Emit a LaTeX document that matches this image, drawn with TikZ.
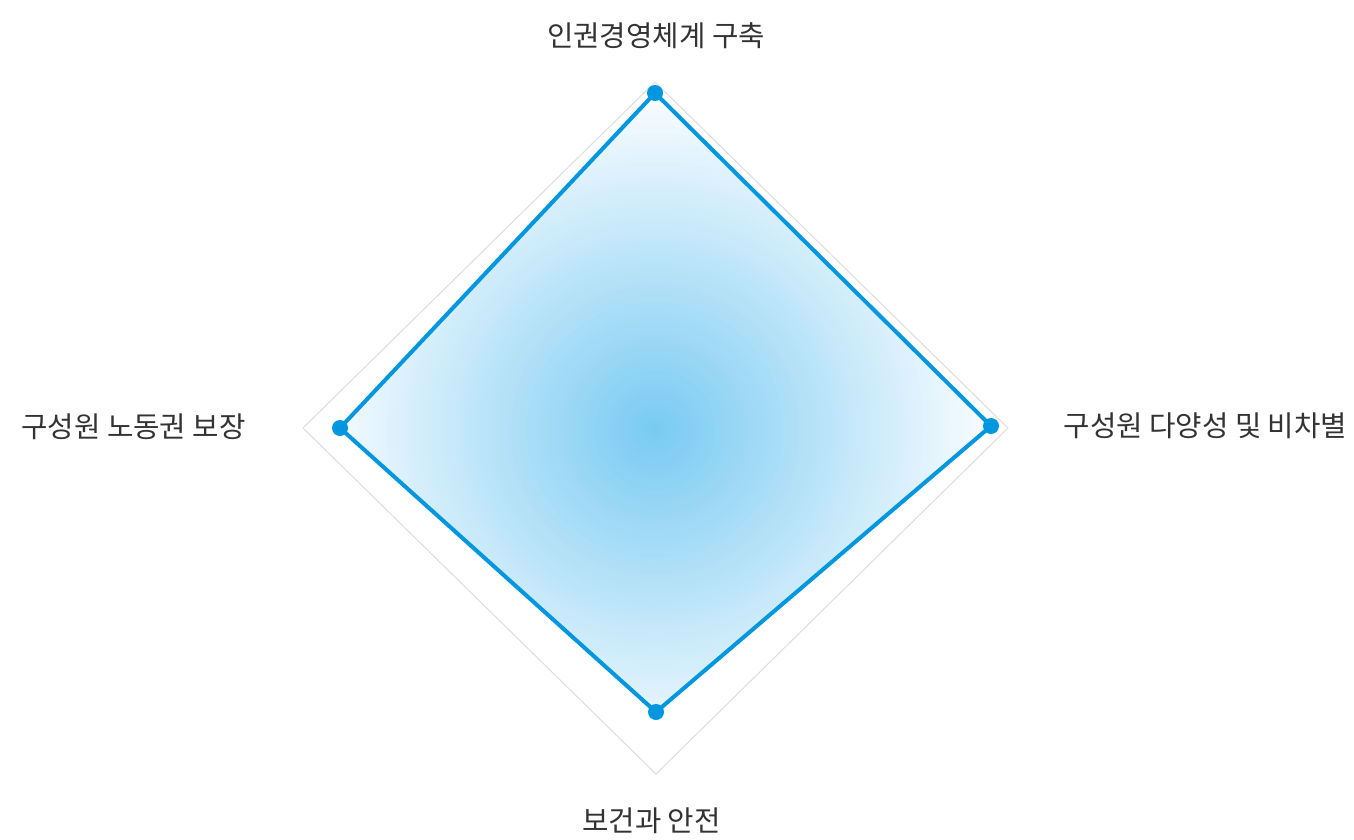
\documentclass[tikz,border=0pt]{standalone}
\usepackage{fontspec}
\newfontfamily\krfont{Noto Sans CJK KR}
\definecolor{lineblue}{RGB}{0,150,224}
\definecolor{gridgray}{RGB}{221,221,221}
\definecolor{txt}{RGB}{51,51,51}
\definecolor{c0}{RGB}{120,202,242}
\definecolor{cend}{RGB}{249,252,255}
\tikzset{
  lbl/.style={font=\krfont\fontsize{28.7}{32}\selectfont, text=txt, inner sep=0pt, anchor=base},
  dot/.style={circle, fill=lineblue, inner sep=0pt, minimum size=16pt},
  grid/.style={draw=gridgray, line width=1pt},
  poly/.style={draw=lineblue, line width=4pt, line join=miter},
}
\begin{document}
\begin{tikzpicture}[x=1pt,y=-1pt]
\useasboundingbox (0,0) rectangle (1354,839);
% outer grey diamond
\coordinate (gt) at (655,82);
\coordinate (gr) at (1008,428);
\coordinate (gb) at (656,774);
\coordinate (gl) at (303,428);
\draw[grid] (gt) -- (gr) -- (gb) -- (gl) -- cycle;
% blue polygon points
\coordinate (pt) at (655,93);
\coordinate (pr) at (991,426);
\coordinate (pb) at (656,712);
\coordinate (pl) at (340,428);
\begin{scope}
\clip (pt) -- (pr) -- (pb) -- (pl) -- cycle;
\fill[cend] (300,80) rectangle (1010,720);
\foreach \r in {340,336,...,4} {
  \pgfmathsetmacro{\p}{min(100,\r/3.35)}
  \fill[cend!\p!c0] (655,430) circle[radius=\r];
}
\end{scope}
\draw[poly] (pt) -- (pr) -- (pb) -- (pl) -- cycle;
\node[dot] (dt) at (pt) {};
\node[dot] (dr) at (pr) {};
\node[dot] (db) at (pb) {};
\node[dot] (dl) at (pl) {};
% labels
\node[lbl] (lt) at (656,46) {인권경영체계 구축};
\node[lbl] (ll) at (133.5,437) {구성원 노동권 보장};
\node[lbl] (lr) at (1205.5,436) {구성원 다양성 및 비차별};
\node[lbl] (lb) at (651.5,831) {보건과 안전};
\end{tikzpicture}
\end{document}
